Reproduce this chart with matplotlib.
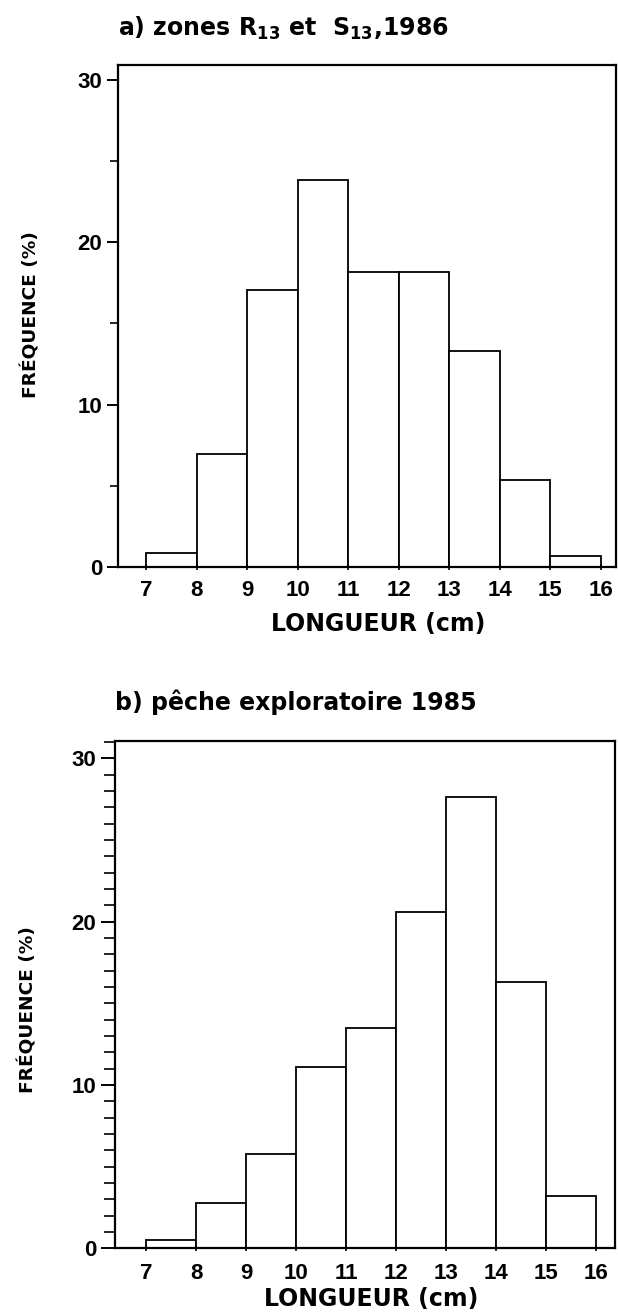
import numpy as np
import matplotlib
matplotlib.use("Agg")
import matplotlib.pyplot as plt
from matplotlib.ticker import MultipleLocator

plt.rcParams["font.family"] = ["Liberation Sans", "DejaVu Sans"]
plt.rcParams["font.weight"] = "bold"

# length classes (left edge of each 1 cm bin)
bin_left = [7, 8, 9, 10, 11, 12, 13, 14, 15]
xtick_labels = ["7", "8", "9", "10", "11", "12", "13", "14", "15", "16"]

# a) zones R13 et S13, 1986
freq_a = [0.9, 7.0, 17.05, 23.85, 18.15, 18.15, 13.3, 5.4, 0.7]
# b) pêche exploratoire 1985
freq_b = [0.5, 2.75, 5.8, 11.1, 13.5, 20.6, 27.65, 16.3, 3.2]

title_a = "a) zones R$_{13}$ et  S$_{13}$,1986"
title_b = "b) pêche exploratoire 1985"
ylabel = "FRÉQUENCE (%)"
xlabel = "LONGUEUR (cm)"

LABEL_FONT = ["DejaVu Sans"]

fig = plt.figure(figsize=(6.18, 13.13), dpi=100)
ax_a = fig.add_axes([118.3 / 618, 0.5679, 497.7 / 618, 0.3826])
ax_b = fig.add_axes([115 / 618, 0.0493, 500 / 618, 0.3866])


def draw_panel(ax, freq, xlim, ytop, minor_step, major_len, minor_len,
               xpad, xlab_pos, ylab_pos):
    ax.bar(bin_left, freq, width=1.0, align="edge", facecolor="white",
           edgecolor="black", linewidth=1.3)
    ax.set_xlim(*xlim)
    ax.set_ylim(0, ytop)
    ax.set_xticks(range(7, 17))
    ax.set_xticklabels(xtick_labels)
    ax.set_yticks([0, 10, 20, 30])
    ax.yaxis.set_minor_locator(MultipleLocator(minor_step))
    ax.tick_params(axis="x", length=5, width=1.2, direction="inout",
                   pad=xpad, labelsize=16)
    ax.tick_params(axis="y", which="major", length=major_len, width=1.4,
                   direction="out", pad=3.6, labelsize=16)
    ax.tick_params(axis="y", which="minor", length=minor_len, width=1.2,
                   direction="out")
    for s in ax.spines.values():
        s.set_linewidth(1.6)
    ax.set_ylabel(ylabel, fontsize=13.3, fontweight="bold", family=LABEL_FONT,
                  va="center", ha="center")
    ax.yaxis.set_label_coords(*ylab_pos)
    ax.set_xlabel(xlabel, fontsize=17, fontweight="bold", family=LABEL_FONT,
                  va="center", ha="center")
    ax.xaxis.set_label_coords(*xlab_pos)


draw_panel(ax_a, freq_a, (6.45, 16.30), 30.9, 5, 8, 6, 6.8,
           (0.522, -0.113), (-0.175, 0.503))
draw_panel(ax_b, freq_b, (6.38, 16.38), 31.08, 1, 10, 8, 8.3,
           (0.513, -0.100), (-0.174, 0.47))

fig.text(118 / 618, 1 - 36 / 1313, title_a, fontsize=17, fontweight="bold",
         family=LABEL_FONT, ha="left", va="baseline")
fig.text(115 / 618, 1 - 710 / 1313, title_b, fontsize=17, fontweight="bold",
         family=LABEL_FONT, ha="left", va="baseline")

fig.savefig("out.png", dpi=100, facecolor="white")
